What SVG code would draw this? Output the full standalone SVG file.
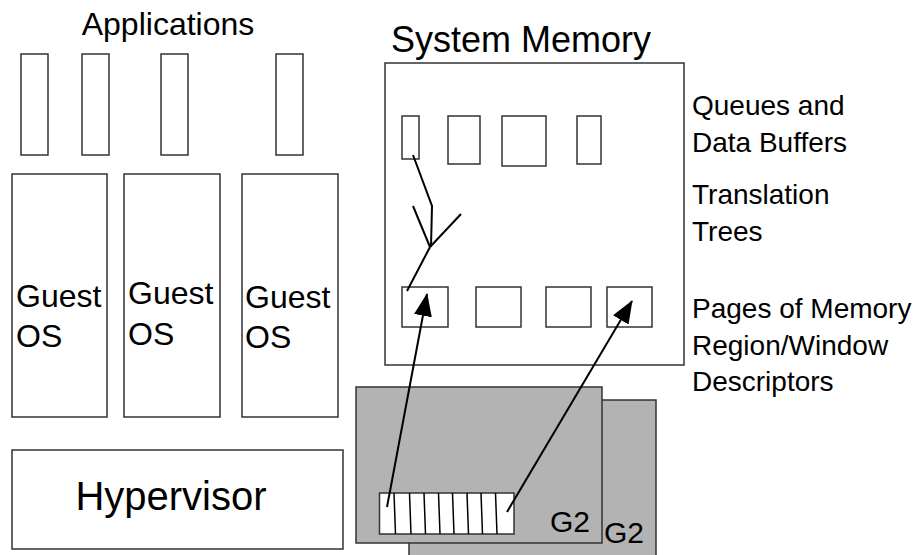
<svg xmlns="http://www.w3.org/2000/svg" width="921" height="555" viewBox="0 0 921 555">
<style>
text{font-family:"Liberation Sans",Arial,sans-serif;fill:#000}
.box{fill:#fff;stroke:#333;stroke-width:1.5}
.gray{fill:#b3b3b3;stroke:#333;stroke-width:1.5}
.ln{stroke:#000;stroke-width:2;fill:none}
.div{stroke:#000;stroke-width:1.5}
</style>
<defs>
<marker id="ah" markerUnits="userSpaceOnUse" markerWidth="24" markerHeight="18" viewBox="0 0 24 18" refX="22" refY="9" orient="auto">
<path d="M0,0 L23,9 L0,18 z" fill="#000"/>
</marker>
</defs>
<rect width="921" height="555" fill="#fff"/>

<g id="applications">
<text x="168" y="35" font-size="32" text-anchor="middle">Applications</text>
<rect class="box" x="21" y="54" width="27" height="101"/>
<rect class="box" x="82" y="54" width="27" height="101"/>
<rect class="box" x="161" y="54" width="27" height="101"/>
<rect class="box" x="276" y="54" width="27" height="101"/>
</g>

<g id="guest1">
<rect class="box" x="12" y="174" width="95" height="243"/>
<text x="16" y="307" font-size="32">Guest</text>
<text x="16" y="347" font-size="32">OS</text>
</g>
<g id="guest2">
<rect class="box" x="124" y="174" width="96" height="243"/>
<text x="128" y="304" font-size="32">Guest</text>
<text x="128" y="345" font-size="32">OS</text>
</g>
<g id="guest3">
<rect class="box" x="242" y="174" width="96" height="243"/>
<text x="245" y="308" font-size="32">Guest</text>
<text x="245" y="348" font-size="32">OS</text>
</g>

<g id="hypervisor">
<rect class="box" x="12" y="450" width="331" height="99"/>
<text x="171" y="510" font-size="40" text-anchor="middle">Hypervisor</text>
</g>

<g id="system-memory">
<text x="391" y="52" font-size="36">System Memory</text>
<rect class="box" x="385" y="63" width="299" height="302"/>
<rect class="box" x="402" y="116" width="17" height="43"/>
<rect class="box" x="448" y="116" width="32" height="48"/>
<rect class="box" x="502" y="116" width="44" height="50"/>
<rect class="box" x="577" y="116" width="24" height="48"/>
<rect class="box" x="402" y="287" width="46" height="40"/>
<rect class="box" x="476" y="287" width="45" height="40"/>
<rect class="box" x="546" y="287" width="45" height="40"/>
<rect class="box" x="607" y="287" width="45" height="40"/>
</g>

<g id="translation-tree">
<polyline class="ln" points="413,155 432,206 431,247"/>
<line class="ln" x1="413" y1="206" x2="430" y2="247"/>
<line class="ln" x1="461" y1="214" x2="430" y2="247"/>
<line class="ln" x1="430" y1="247" x2="407" y2="291"/>
</g>

<g id="labels">
<text x="692" y="115" font-size="28">Queues and</text>
<text x="692" y="152" font-size="28">Data Buffers</text>
<text x="692" y="204" font-size="28">Translation</text>
<text x="692" y="241" font-size="28">Trees</text>
<text x="692" y="318" font-size="28">Pages of Memory</text>
<text x="692" y="355" font-size="28">Region/Window</text>
<text x="692" y="391" font-size="28">Descriptors</text>
</g>

<g id="g2-back">
<rect class="gray" x="409" y="400" width="247" height="160"/>
<text x="604" y="543" font-size="30">G2</text>
</g>
<g id="g2-front">
<rect class="gray" x="356" y="387" width="246" height="156"/>
<text x="550" y="532" font-size="30">G2</text>
<rect x="379.5" y="493" width="134.5" height="41" fill="#fff" stroke="#333" stroke-width="1.5"/>
<line class="div" x1="394" y1="493" x2="395.5" y2="534"/>
<line class="div" x1="409.5" y1="493" x2="411" y2="534"/>
<line class="div" x1="424" y1="493" x2="425.5" y2="534"/>
<line class="div" x1="438.5" y1="493" x2="440" y2="534"/>
<line class="div" x1="452.5" y1="493" x2="454" y2="534"/>
<line class="div" x1="467" y1="493" x2="468.5" y2="534"/>
<line class="div" x1="481" y1="493" x2="482.5" y2="534"/>
<line class="div" x1="495.5" y1="493" x2="497" y2="534"/>
</g>

<g id="connectors">
<line class="ln" x1="387" y1="507" x2="427" y2="294" marker-end="url(#ah)"/>
<line class="ln" x1="507" y1="512" x2="632" y2="301" marker-end="url(#ah)"/>
</g>
</svg>
